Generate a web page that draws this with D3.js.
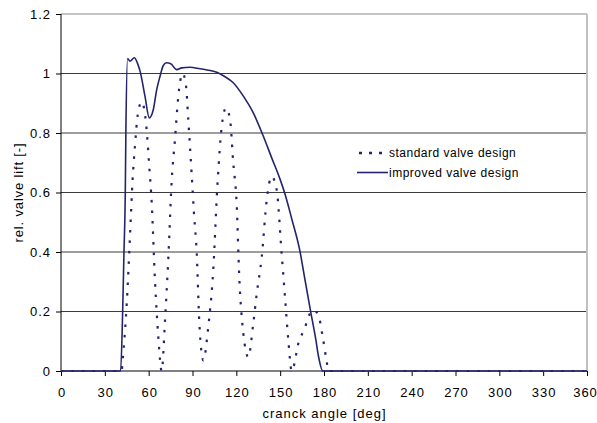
<!DOCTYPE html>
<html>
<head>
<meta charset="utf-8">
<script src="https://cdn.jsdelivr.net/npm/d3@7"></script>
<style>
  body { margin: 0; background: #fff; }
  svg { display: block; font-family: "Liberation Sans", Arial, sans-serif; }
  .axis text { font-family: "Liberation Sans", Arial, sans-serif; font-size: 13px; letter-spacing: 1px; fill: #000; }
  .axis path, .axis line { stroke: #000; }
  .title { font-size: 13px; }
  .legend text { font-size: 12px; letter-spacing: 0.5px; }
</style>
</head>
<body>
<script>
var w = 597;
var h = 423;
var margin = { top: 14, right: 10, bottom: 52, left: 61 };

// standard valve design (dotted)
var standardAngle = [0, 41.5, 42.2, 45, 47.2, 49, 50.6, 52.5, 55.2, 58.2, 60.4, 62.1, 64.3, 66.6, 68.9,
	71.2, 73.4, 75.8, 78, 80.3, 83.3, 85.6, 87.1, 89.4, 91, 92.9, 94.7, 97.4, 100.8, 104.2, 107,
	110, 112.9, 115.7, 117.9, 120.2, 122, 124.8, 128.2, 131.6, 134, 137.4, 140.8, 144.2, 147.6,
	151, 153.3, 155.6, 157.9, 163, 166.3, 170.4, 172.7, 176.1, 179.1, 181.9, 183, 360];
var standardLift = [0, 0, 0.036, 0.227, 0.452, 0.643, 0.755, 0.86, 0.905, 0.834, 0.688, 0.564, 0.306, 0.115, 0,
	0.171, 0.373, 0.643, 0.778, 0.924, 1.0, 0.957, 0.845, 0.665, 0.53, 0.396, 0.16, 0.036, 0.148, 0.339, 0.62,
	0.822, 0.884, 0.845, 0.699, 0.564, 0.317, 0.126, 0.047, 0.16, 0.261, 0.384, 0.575, 0.654, 0.609,
	0.396, 0.249, 0.103, 0, 0.103, 0.137, 0.193, 0.205, 0.188, 0.115, 0.03, 0, 0];

// improved valve design (solid)
var improvedAngle = [0, 40.8, 42.2, 43.1, 44.0, 44.4, 45.6, 47.2, 50.2, 52.3, 54.1, 57.5, 60.4, 63.2, 65.5,
	67.8, 70, 72.3, 75.1, 79.2, 82.6, 88.3, 95.1, 100, 106.6, 112, 117.9, 124.8, 131.6, 138.5, 144,
	149.9, 153.3, 157.9, 163.6, 167, 170.9, 174.5, 176.1, 179.3, 360];
var improvedLift = [0, 0, 0.2, 0.4, 0.6, 0.8, 1.05, 1.041, 1.053, 1.035, 1.008, 0.923, 0.851, 0.879, 0.946,
	0.991, 1.027, 1.036, 1.033, 1.013, 1.019, 1.021, 1.016, 1.012, 1.004, 0.99, 0.969, 0.924, 0.868, 0.789, 0.719,
	0.645, 0.595, 0.512, 0.401, 0.306, 0.199, 0.103, 0.053, 0, 0];

var xTicks = [0, 30, 60, 90, 120, 150, 180, 210, 240, 270, 300, 330, 360];
var yTicks = [0, 0.2, 0.4, 0.6, 0.8, 1, 1.2];

var seriesNames = ['standard valve design', 'improved valve design'];
var lineColor = '#24246e';

var svg = d3.select('body')
	.append('svg')
	.attr('width', w)
	.attr('height', h);

var x = d3.scaleLinear().domain([0, 360]).range([margin.left, w - margin.right]);
var y = d3.scaleLinear().domain([0, 1.2]).range([h - margin.bottom, margin.top]);

// gridlines
svg.append('g')
	.selectAll('line')
	.data(yTicks.filter(function(d) { return d > 0; }))
	.enter()
	.append('line')
	.attr('x1', x(0))
	.attr('x2', x(360))
	.attr('y1', function(d) { return y(d); })
	.attr('y2', function(d) { return y(d); })
	.attr('stroke', function(d) { return d === 1.2 ? '#8a8a8a' : '#3a3a3a'; })
	.attr('stroke-width', 1);

// right border of plot area
svg.append('line')
	.attr('x1', x(360)).attr('x2', x(360))
	.attr('y1', y(1.2)).attr('y2', y(0))
	.attr('stroke', '#c0c0c0')
	.attr('stroke-width', 2);

var xAxis = d3.axisBottom(x)
	.tickValues(xTicks)
	.tickSize(5)
	.tickPadding(12)
	.tickFormat(d3.format('d'));

var yAxis = d3.axisLeft(y)
	.tickValues(yTicks)
	.tickSize(5)
	.tickPadding(5)
	.tickFormat(function(d) { return d3.format('')(+d.toFixed(1)); });

svg.append('g')
	.attr('class', 'axis')
	.attr('transform', 'translate(0,' + y(0) + ')')
	.call(xAxis)
	.call(function(g) {
		g.select('.domain').attr('d', 'M' + x(0) + ',0H' + x(360));
		g.selectAll('.tick text').attr('dx', function(d) { return d === 360 ? '-2px' : '0.5px'; });
	});

svg.append('g')
	.attr('class', 'axis')
	.attr('transform', 'translate(' + x(0) + ',0)')
	.call(yAxis)
	.call(function(g) { g.select('.domain').attr('d', 'M0,' + y(1.2) + 'V' + y(0)); });

var line = d3.line()
	.x(function(d) { return x(d[0]); })
	.y(function(d) { return y(d[1]); })
	.curve(d3.curveMonotoneX);

var standard = d3.zip(standardAngle, standardLift);
var improved = d3.zip(improvedAngle, improvedLift);

svg.append('path')
	.datum(standard)
	.attr('d', line)
	.attr('fill', 'none')
	.attr('stroke', lineColor)
	.attr('stroke-width', 2.2)
	.attr('stroke-dasharray', '2.5,8');

svg.append('path')
	.datum(improved)
	.attr('d', line)
	.attr('fill', 'none')
	.attr('stroke', lineColor)
	.attr('stroke-width', 1.6);

// axis titles
svg.append('text')
	.attr('class', 'title')
	.attr('x', (x(0) + x(360)) / 2 + 0.5)
	.attr('y', 418)
	.attr('text-anchor', 'middle')
	.style('letter-spacing', '1px')
	.text('cranck angle [deg]');

svg.append('text')
	.attr('class', 'title')
	.attr('transform', 'translate(23,' + ((y(0) + y(1.2)) / 2) + ') rotate(-90)')
	.attr('text-anchor', 'middle')
	.style('letter-spacing', '0.85px')
	.text('rel. valve lift [-]');

// legend
var legend = svg.selectAll('.legend')
	.data(seriesNames)
	.enter()
	.append('g')
	.attr('class', 'legend')
	.attr('transform', function(d, i) { return 'translate(357,' + (153 + i * 19.5) + ')'; });

legend.append('line')
	.attr('x1', function(d, i) { return i === 0 ? 2 : 0; })
	.attr('x2', 31)
	.attr('y1', 0)
	.attr('y2', 0)
	.attr('stroke', lineColor)
	.attr('stroke-width', function(d, i) { return i === 0 ? 2.5 : 1.6; })
	.attr('stroke-dasharray', function(d, i) { return i === 0 ? '3,7' : null; });

legend.append('text')
	.attr('x', 32)
	.attr('y', 4)
	.text(function(d) { return d; });
</script>
</body>
</html>
